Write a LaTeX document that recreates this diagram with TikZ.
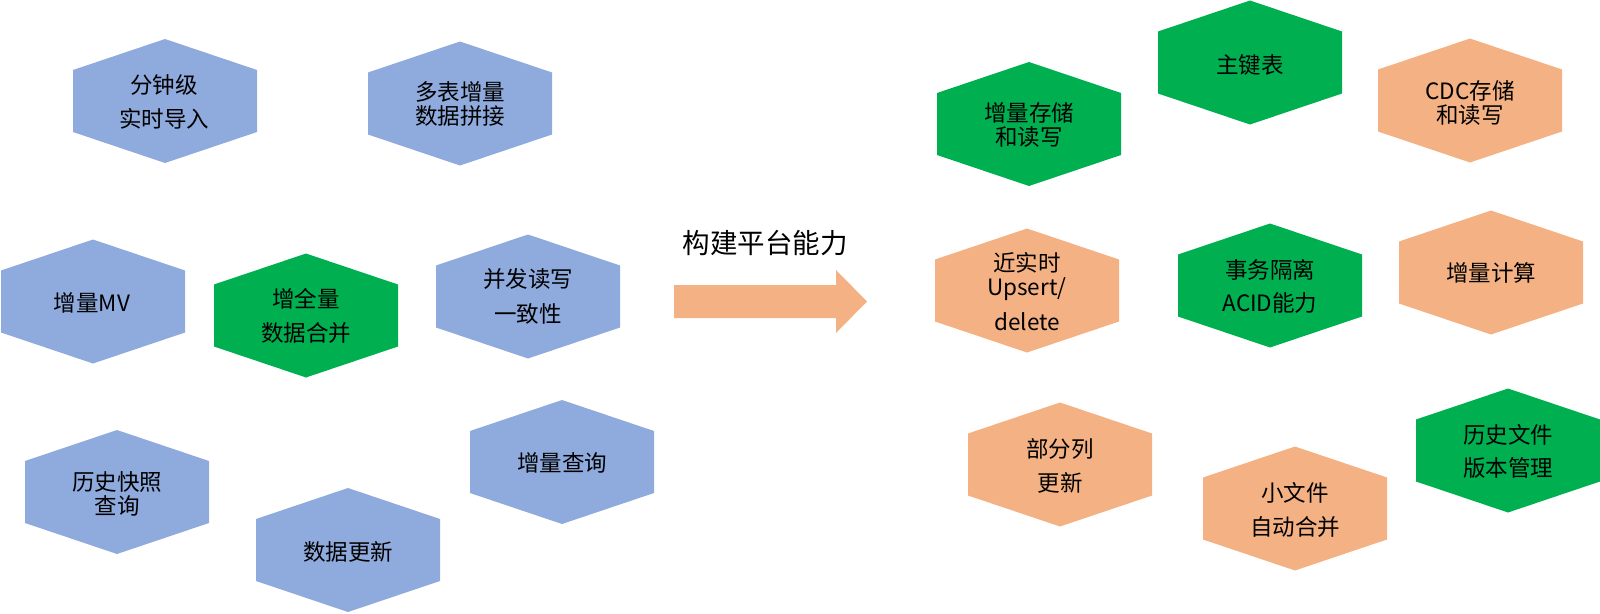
\documentclass[tikz,border=0pt]{standalone}
\usepackage{fontspec}
\setmainfont{Noto Sans CJK SC}
\definecolor{hexblue}{HTML}{8FAADC}
\definecolor{hexgreen}{HTML}{00B050}
\definecolor{hexorange}{HTML}{F4B183}
\tikzset{
  hexagon/.pic={\path[pic actions] (-92,-31) -- (0,-62) -- (92,-31) -- (92,31) -- (0,62) -- (-92,31) -- cycle;},
  bluehex/.style={fill=hexblue},
  greenhex/.style={fill=hexgreen},
  orangehex/.style={fill=hexorange},
  hextext/.style={align=center, font=\fontsize{22.5}{24}\selectfont, inner sep=0pt, text=black},
  titletext/.style={font=\fontsize{27.5}{30}\selectfont, inner sep=0pt, text=black},
}
\begin{document}
\begin{tikzpicture}[x=1pt,y=-1pt]
\useasboundingbox (0,0) rectangle (1600,613);
% left group
\pic[bluehex] at (165,101) {hexagon};
\node[hextext] (n1) at (164,102) {分钟级\\[10pt]实时导入};
\pic[bluehex] at (460,103.5) {hexagon};
\node[hextext] (n2) at (460,104) {多表增量\\数据拼接};
\pic[bluehex] at (93,301.5) {hexagon};
\node[hextext] (n3) at (92,303) {增量MV};
\pic[greenhex] at (306,315.5) {hexagon};
\node[hextext] (n4) at (306,316) {增全量\\[10pt]数据合并};
\pic[bluehex] at (528,296.5) {hexagon};
\node[hextext] (n5) at (528,296.5) {并发读写\\[11pt]一致性};
\pic[bluehex] at (117,492) {hexagon};
\node[hextext] (n6) at (117,494) {历史快照\\查询};
\pic[bluehex] at (348,550) {hexagon};
\node[hextext] (n7) at (348,552) {数据更新};
\pic[bluehex] at (562,462) {hexagon};
\node[hextext] (n8) at (562,463) {增量查询};
% arrow
\node[titletext] (title) at (765,243) {构建平台能力};
\fill[hexorange] (674,285) -- (836,285) -- (836,270) -- (867,301.5) -- (836,333) -- (836,318) -- (674,318) -- cycle;
% right group
\pic[greenhex] at (1029,124) {hexagon};
\node[hextext] (m1) at (1029,125) {增量存储\\和读写};
\pic[greenhex] at (1250,62.5) {hexagon};
\node[hextext] (m2) at (1250,65) {主键表};
\pic[orangehex] at (1470,100.5) {hexagon};
\node[hextext] (m3) at (1470,102.5) {CDC存储\\和读写};
\pic[orangehex] at (1027,290.5) {hexagon};
\node[hextext] (m4) at (1027,292) {近实时\\Upsert/\\[11pt]delete};
\pic[greenhex] at (1270,285.5) {hexagon};
\node[hextext] (m5) at (1270,286.5) {事务隔离\\[9pt]ACID能力};
\pic[orangehex] at (1491,272.5) {hexagon};
\node[hextext] (m6) at (1491,273) {增量计算};
\pic[orangehex] at (1060,464.5) {hexagon};
\node[hextext] (m7) at (1060,466) {部分列\\[10pt]更新};
\pic[orangehex] at (1295,508.5) {hexagon};
\node[hextext] (m8) at (1295,510) {小文件\\[10pt]自动合并};
\pic[greenhex] at (1508,450.5) {hexagon};
\node[hextext] (m9) at (1508,451.5) {历史文件\\[9pt]版本管理};
\end{tikzpicture}
\end{document}
